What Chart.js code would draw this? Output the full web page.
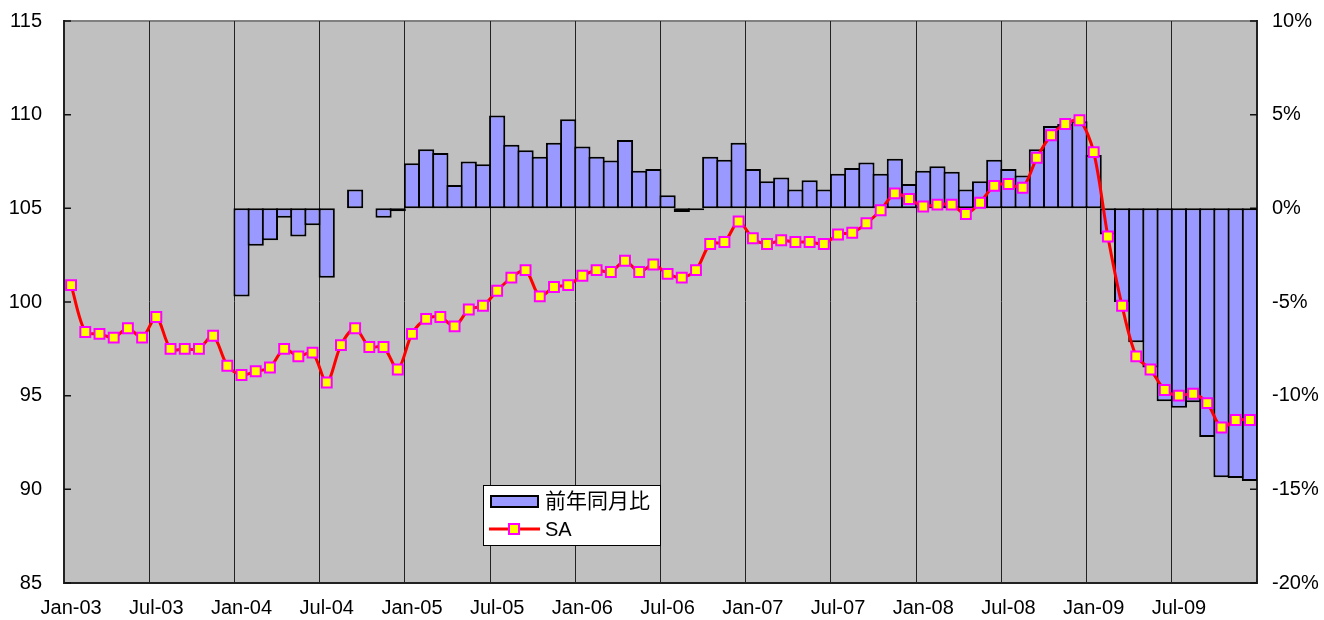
<!DOCTYPE html>
<html lang="ja">
<head>
  <meta charset="UTF-8">
  <meta name="viewport" content="width=device-width, initial-scale=1.0">
  <title>前年同月比 / SA</title>
  <script src="https://cdn.jsdelivr.net/npm/chart.js@4.4.1/dist/chart.umd.min.js"></script>
  <style>
    html, body { margin: 0; padding: 0; background: #fff; }
    #wrap { width: 1324px; height: 620px; }
  </style>
</head>
<body>
  <div id="wrap"><canvas id="myChart" width="1324" height="620"></canvas></div>

  <script>
    // months Jan-03 .. Dec-09
    const monthNames = ['Jan', 'Feb', 'Mar', 'Apr', 'May', 'Jun', 'Jul', 'Aug', 'Sep', 'Oct', 'Nov', 'Dec'];
    const yearNames = ['03', '04', '05', '06', '07', '08', '09'];

    // year-on-year change, % (right axis); no figure for 2003
    const yoyPct = [
      null, null, null, null, null, null, null, null, null, null, null, null,
      -4.7, -2.0, -1.7, -0.5, -1.5, -0.9, -3.7, null, 1.0, null, -0.5, -0.15,
      2.4, 3.15, 2.95, 1.25, 2.5, 2.35, 4.95, 3.4, 3.1, 2.75, 3.5, 4.75,
      3.3, 2.75, 2.55, 3.65, 2.0, 2.1, 0.7, -0.2, -0.1, 2.75, 2.6, 3.5,
      2.1, 1.45, 1.65, 1.0, 1.5, 1.0, 1.85, 2.15, 2.45, 1.85, 2.65, 1.3,
      2.0, 2.25, 1.95, 1.0, 1.45, 2.6, 2.1, 1.75, 3.15, 4.4, 4.5, 4.65,
      2.85, -1.4, -5.0, -7.15, -8.5, -10.3, -10.65, -10.35, -12.2, -14.35, -14.4, -14.55
    ];

    // seasonally adjusted index (left axis)
    const saIndex = [
      100.9, 98.4, 98.3, 98.1, 98.6, 98.1, 99.2, 97.5, 97.5, 97.5, 98.2, 96.6,
      96.1, 96.3, 96.5, 97.5, 97.1, 97.3, 95.7, 97.7, 98.6, 97.6, 97.6, 96.4,
      98.3, 99.1, 99.2, 98.7, 99.6, 99.8, 100.6, 101.3, 101.7, 100.3, 100.8, 100.9,
      101.4, 101.7, 101.6, 102.2, 101.6, 102.0, 101.5, 101.3, 101.7, 103.1, 103.2, 104.3,
      103.4, 103.1, 103.3, 103.2, 103.2, 103.1, 103.6, 103.7, 104.2, 104.9, 105.8, 105.5,
      105.1, 105.2, 105.2, 104.7, 105.3, 106.2, 106.3, 106.1, 107.7, 108.9, 109.5, 109.7,
      108.0, 103.5, 99.8, 97.1, 96.4, 95.3, 95.0, 95.1, 94.6, 93.3, 93.7, 93.7
    ];

    const labels = [];
    yearNames.forEach(y => monthNames.forEach(m => labels.push(m + '-' + y)));

    const fontFamily = "'Liberation Sans', Arial, 'Noto Sans CJK JP', sans-serif";
    Chart.defaults.font.family = fontFamily;
    Chart.defaults.font.size = 20;
    Chart.defaults.color = '#000';

    // gray plot area, inward tick marks and the boxed legend
    const plotFrame = {
      id: 'plotFrame',
      beforeDraw(chart) {
        const {ctx, chartArea: a} = chart;
        ctx.save();
        ctx.fillStyle = '#C0C0C0';
        ctx.fillRect(a.left, a.top, a.right - a.left, a.bottom - a.top);
        ctx.strokeStyle = '#808080';
        ctx.lineWidth = 2;
        ctx.beginPath();
        ctx.moveTo(a.left, a.top);
        ctx.lineTo(a.right, a.top);
        ctx.stroke();
        ctx.restore();
      },
      beforeDatasetsDraw(chart) {
        const {ctx, chartArea: a, scales} = chart;
        ctx.save();
        ctx.strokeStyle = '#111';
        ctx.lineWidth = 1.5;
        ctx.beginPath();
        scales.y.ticks.forEach(t => {
          const py = scales.y.getPixelForValue(t.value);
          ctx.moveTo(a.left, py);
          ctx.lineTo(a.left + 7, py);
        });
        scales.y1.ticks.forEach(t => {
          const py = scales.y1.getPixelForValue(t.value);
          ctx.moveTo(a.right, py);
          ctx.lineTo(a.right - 7, py);
        });
        ctx.stroke();
        ctx.restore();
      },
      afterDraw(chart) {
        const {ctx} = chart;
        const bar = chart.data.datasets[1];
        const line = chart.data.datasets[0];
        const bx = 483, by = 485, bw = 177, bh = 60;
        ctx.save();
        ctx.fillStyle = '#fff';
        ctx.fillRect(bx, by, bw, bh);
        ctx.strokeStyle = '#000';
        ctx.lineWidth = 1;
        ctx.strokeRect(bx + 0.5, by + 0.5, bw, bh);

        // bar swatch
        ctx.fillStyle = bar.borderColor;
        ctx.fillRect(bx + 7, by + 10, 49, 13);
        ctx.fillStyle = bar.backgroundColor;
        ctx.fillRect(bx + 9, by + 12, 45, 9);

        // line swatch with marker
        const ly = by + 44;
        ctx.strokeStyle = line.borderColor;
        ctx.lineWidth = 3;
        ctx.beginPath();
        ctx.moveTo(bx + 6, ly);
        ctx.lineTo(bx + 57, ly);
        ctx.stroke();
        ctx.fillStyle = line.pointBackgroundColor;
        ctx.strokeStyle = line.pointBorderColor;
        ctx.lineWidth = 2;
        ctx.fillRect(bx + 26, ly - 5, 10, 10);
        ctx.strokeRect(bx + 26, ly - 5, 10, 10);

        ctx.fillStyle = '#000';
        ctx.textBaseline = 'middle';
        ctx.textAlign = 'left';
        ctx.font = "21px " + fontFamily;
        ctx.fillText(bar.label, bx + 62, by + 17);
        ctx.font = "20px " + fontFamily;
        ctx.fillText(line.label, bx + 62, ly + 1);
        ctx.restore();
      }
    };

    // fixed axis sizes, no extra room for label overflow
    function fitY(width) {
      return scale => {
        scale.width = width;
        scale.paddingTop = 0;
        scale.paddingBottom = 0;
      };
    }

    const ctx = document.getElementById('myChart').getContext('2d');
    const myChart = new Chart(ctx, {
      type: 'bar',
      data: {
        labels: labels,
        datasets: [{
          type: 'line',
          label: 'SA',
          data: saIndex,
          yAxisID: 'y',
          order: 0,
          borderColor: '#FF0000',
          borderWidth: 3,
          tension: 0.3,
          pointStyle: 'rect',
          pointRadius: 7,
          pointBackgroundColor: '#FFFF00',
          pointBorderColor: '#FF00FF',
          pointBorderWidth: 2
        }, {
          type: 'bar',
          label: '前年同月比',
          data: yoyPct,
          yAxisID: 'y1',
          order: 1,
          backgroundColor: '#9999FF',
          borderColor: '#000000',
          borderWidth: 2,
          borderSkipped: false,
          categoryPercentage: 1,
          barPercentage: 1.14
        }]
      },
      options: {
        responsive: false,
        animation: false,
        layout: { padding: { top: 21, left: 0, right: 0, bottom: 0 } },
        plugins: {
          legend: { display: false },
          tooltip: { enabled: false }
        },
        scales: {
          x: {
            offset: true,
            afterFit(scale) {
              scale.height = 37;
              scale.paddingLeft = 0;
              scale.paddingRight = 0;
            },
            grid: {
              offset: true,
              drawTicks: false,
              lineWidth: 1,
              color: c => (c.index % 6 === 0 ? '#222' : 'rgba(0,0,0,0)')
            },
            border: { color: '#222', width: 2 },
            ticks: {
              autoSkip: false,
              maxRotation: 0,
              minRotation: 0,
              padding: 13,
              callback: (v, i) => (i % 6 === 0 ? labels[i] : '')
            }
          },
          y: {
            position: 'left',
            min: 85,
            max: 115,
            afterFit: fitY(64),
            grid: { display: false },
            border: { color: '#222', width: 2 },
            ticks: { stepSize: 5, padding: 14 }
          },
          y1: {
            position: 'right',
            min: -20,
            max: 10,
            afterFit: fitY(67),
            grid: { display: false },
            border: { color: '#222', width: 2 },
            ticks: { stepSize: 5, padding: 7, callback: v => v + '%' }
          }
        }
      },
      plugins: [plotFrame]
    });
  </script>
</body>
</html>
